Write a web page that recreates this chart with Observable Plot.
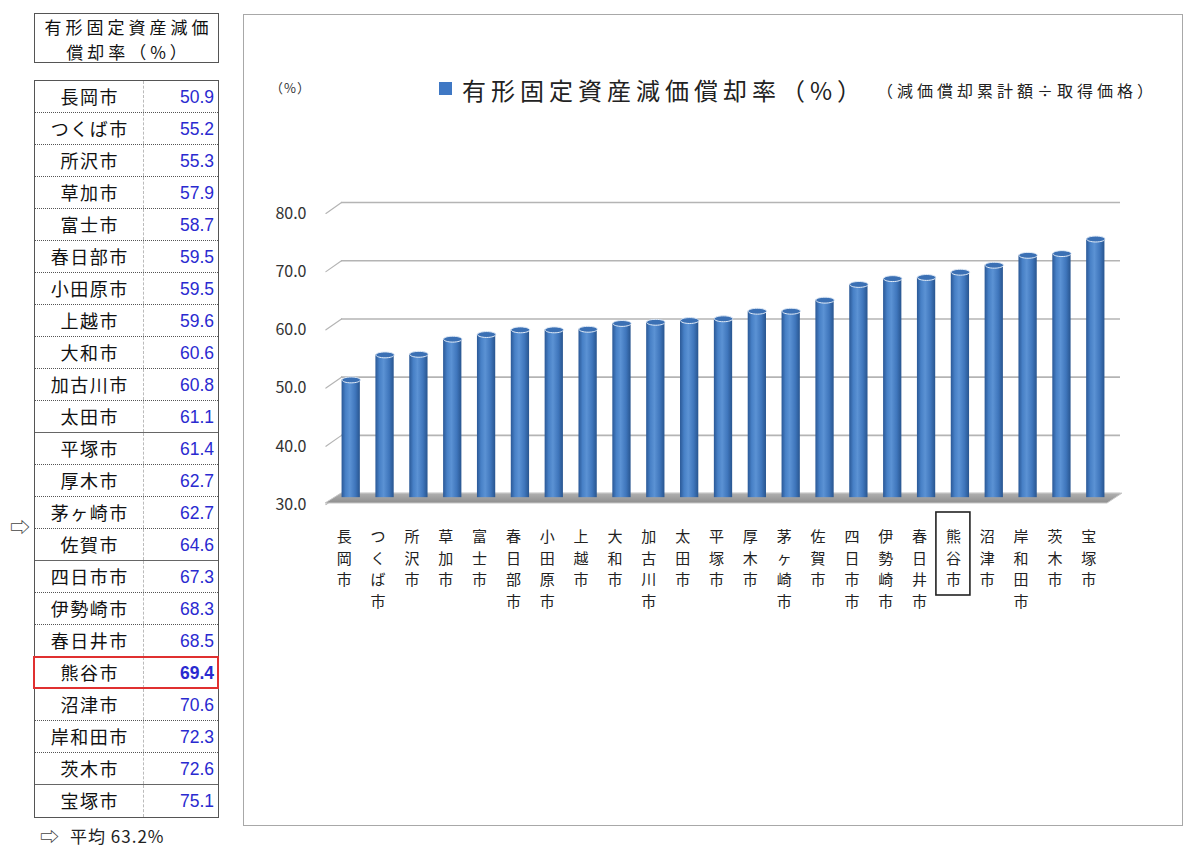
<!DOCTYPE html>
<html lang="ja">
<head>
<meta charset="utf-8">
<script src="https://cdn.jsdelivr.net/npm/d3@7"></script>
<script src="https://cdn.jsdelivr.net/npm/@observablehq/plot@0.6"></script>
<style>
  html, body { margin: 0; padding: 0; background: #fff; }
  body { width: 1187px; height: 849px; position: relative; overflow: hidden;
         font-family: "Noto Sans CJK JP", "Noto Sans", sans-serif; color: #111; }
  .abs { position: absolute; }
  #titlebox { left: 34px; top: 13px; width: 185px; height: 50px; box-sizing: border-box;
              border: 1.5px solid #555; text-align: center; font-size: 17px; line-height: 25px;
              letter-spacing: 4px; padding-left: 4px; padding-top: 0px; color: #111; }
  #table { left: 34px; top: 80px; width: 185px; box-sizing: border-box; border: 1.5px solid #555; }
  .row { display: flex; height: 32px; box-sizing: border-box; border-bottom: 1px dotted #555; }
  .row.solid { border-bottom: 1px solid #666; }
  .row:last-child { border-bottom: none; }
  .name { width: 109px; box-sizing: border-box; border-right: 1px dashed #bbb; text-align: center;
          font-size: 18px; line-height: 31px; letter-spacing: 1.5px; padding-left: 1.5px; }
  .val { flex: 1; text-align: right; padding-right: 4px; font-family: "Liberation Sans", Arial, sans-serif;
         font-size: 17.5px; line-height: 32px; color: #2a2ad0; }
  .val.bold { font-weight: bold; }
  #hl { left: 33px; top: 656px; width: 186px; height: 33px; box-sizing: border-box; border: 2px solid #e03030; }
  #panel { left: 243px; top: 14px; width: 940px; height: 812px; box-sizing: border-box; border: 1px solid #a8a8a8; }
  #chart { left: 244px; top: 150px; }
</style>
</head>
<body>
<script>
// ---- data ----
const cities = ["長岡市","つくば市","所沢市","草加市","富士市","春日部市","小田原市","上越市","大和市","加古川市",
  "太田市","平塚市","厚木市","茅ヶ崎市","佐賀市","四日市市","伊勢崎市","春日井市","熊谷市","沼津市",
  "岸和田市","茨木市","宝塚市"];
const rates = [50.9,55.2,55.3,57.9,58.7,59.5,59.5,59.6,60.6,60.8,61.1,61.4,62.7,62.7,64.6,67.3,68.3,68.5,69.4,70.6,72.3,72.6,75.1];
const yTicks = [30,40,50,60,70,80];
const highlight = ["熊谷市"];
const average = 63.2;
const tableTitle = ["有形固定資産減価", "償却率（%）"];
const legendLabel = "有形固定資産減価償却率（%）";
const subtitle = "（減価償却累計額÷取得価格）";
const unitLabel = "（%）";
const solidAfter = ["太田市", "佐賀市", "茨木市"];

const data = cities.map((c, i) => ({city: c, value: rates[i]}));
const body = d3.select("body");

// ---- left table ----
body.append("div").attr("id", "titlebox").attr("class", "abs").html(tableTitle.join("<br>"));
const table = body.append("div").attr("id", "table").attr("class", "abs");
data.forEach(d => {
  const r = table.append("div").attr("class", "row" + (solidAfter.includes(d.city) ? " solid" : ""));
  r.append("div").attr("class", "name").text(d.city);
  r.append("div").attr("class", "val" + (highlight.includes(d.city) ? " bold" : "")).text(d.value.toFixed(1));
});
body.append("div").attr("id", "hl").attr("class", "abs");
body.append("div").attr("class", "abs").style("left", "10px").style("top", "512px")
  .style("font-size", "20px").style("line-height", "30px").style("color", "#444").text("⇨");
body.append("div").attr("class", "abs").style("left", "40px").style("top", "824px")
  .style("font-size", "19px").style("line-height", "24px").style("color", "#444").text("⇨");
body.append("div").attr("class", "abs").style("left", "70px").style("top", "824px")
  .style("font-size", "17px").style("line-height", "24px").style("letter-spacing", "1px").style("color", "#222")
  .text(`平均 ${average.toFixed(1)}%`);

// ---- chart panel & header ----
body.append("div").attr("id", "panel").attr("class", "abs");
body.append("div").attr("class", "abs").style("left", "270px").style("top", "78px")
  .style("font-size", "13px").style("letter-spacing", "1px").style("color", "#333").text(unitLabel);
body.append("div").attr("class", "abs").style("left", "439px").style("top", "82px")
  .style("width", "13px").style("height", "13px").style("background", "#3f78c4");
body.append("div").attr("class", "abs").style("left", "462px").style("top", "72px")
  .style("font-size", "24px").style("letter-spacing", "5px").style("color", "#222").text(legendLabel);
body.append("div").attr("class", "abs").style("left", "877px").style("top", "78px")
  .style("font-size", "16px").style("letter-spacing", "4px").style("color", "#222").text(subtitle);

// ---- chart ----
const ellipse = {
  draw(context, size) {
    const rx = Math.sqrt(size / Math.PI), ry = rx * 0.32, k = 0.5523;
    context.moveTo(rx, 0);
    context.bezierCurveTo(rx, ry * k, rx * k, ry, 0, ry);
    context.bezierCurveTo(-rx * k, ry, -rx, ry * k, -rx, 0);
    context.bezierCurveTo(-rx, -ry * k, -rx * k, -ry, 0, -ry);
    context.bezierCurveTo(rx * k, -ry, rx, -ry * k, rx, 0);
    context.closePath();
  }
};

const floorMark = (index, scales, values, dims) => {
  const yb = scales.y(30), yf = scales.y(28.3);
  const x0 = dims.marginLeft, x1 = dims.width - dims.marginRight;
  const g = d3.create("svg:g");
  g.append("path")
    .attr("d", `M${x0 + 15},${yb}L${x1 + 2},${yb}L${x1 - 13},${yf}L${x0 - 1},${yf}Z`)
    .attr("fill", "url(#floorg)").attr("stroke", "#c8c8c8").attr("stroke-width", 1);
  return g.node();
};

const boxMark = (index, scales, values, dims) => {
  const g = d3.create("svg:g");
  const bw = scales.x.bandwidth ? scales.x.bandwidth() : 18;
  highlight.forEach(h => {
    const cx = scales.x(h) + bw / 2 - 7;
    const yb = dims.height - dims.marginBottom;
    g.append("rect").attr("x", cx - 17).attr("y", yb + 9).attr("width", 34).attr("height", 83)
      .attr("fill", "none").attr("stroke", "#222").attr("stroke-width", 1.6);
  });
  return g.node();
};

const chart = Plot.plot({
  width: 938,
  height: 480,
  marginLeft: 82,
  marginRight: 62,
  marginTop: 52,
  marginBottom: 127,
  style: {fontFamily: "'Noto Sans CJK JP', sans-serif", background: "transparent"},
  x: {domain: cities, padding: 0.46, round: false, axis: null},
  y: {domain: [28.3, 80], axis: null},
  marks: [
    Plot.ruleY(yTicks, {stroke: "#b4b4b4", strokeWidth: 1.6, insetLeft: 15}),
    Plot.vector(yTicks, {y: d => d, frameAnchor: "left", dx: 15, anchor: "end", rotate: 55, length: 19,
      stroke: "#b4b4b4", strokeWidth: 1.2, shape: {draw(ctx, l) { ctx.moveTo(0, 0); ctx.lineTo(0, -l); }}}),
    floorMark,
    Plot.barY(data, {x: "city", y1: 29.3, y2: "value", fill: "url(#cyl)", insetTop: 8}),
    Plot.dot(data, {x: "city", y: "value", dy: 8, symbol: ellipse, r: 9.2, fill: "#3b70b4",
      stroke: "#e2ecf8", strokeWidth: 1}),
    Plot.text(yTicks, {y: d => d, text: d => d.toFixed(1), frameAnchor: "left", textAnchor: "end",
      dx: -20, dy: 11, fontSize: 16, fill: "#333", fontFamily: "'Noto Sans CJK JP', sans-serif"}),
    Plot.text(cities, {x: d => d, text: d => Array.from(d).join("\n"), frameAnchor: "bottom",
      lineAnchor: "top", dy: 23, dx: -7, fontSize: 15, lineHeight: 1.45, fill: "#222"}),
    boxMark
  ]
});

chart.insertAdjacentHTML("afterbegin", `
<defs>
  <linearGradient id="cyl" x1="0" x2="1" y1="0" y2="0">
    <stop offset="0" stop-color="#2a5896"/>
    <stop offset="0.22" stop-color="#4780c6"/>
    <stop offset="0.45" stop-color="#5b92d4"/>
    <stop offset="0.75" stop-color="#3f76bc"/>
    <stop offset="1" stop-color="#28558f"/>
  </linearGradient>
  <linearGradient id="floorg" x1="0" x2="0" y1="0" y2="1">
    <stop offset="0" stop-color="#b0b0b0"/>
    <stop offset="1" stop-color="#8e8e8e"/>
  </linearGradient>
</defs>`);

const holder = body.append("div").attr("id", "chart").attr("class", "abs");
holder.node().appendChild(chart);
</script>
</body>
</html>
